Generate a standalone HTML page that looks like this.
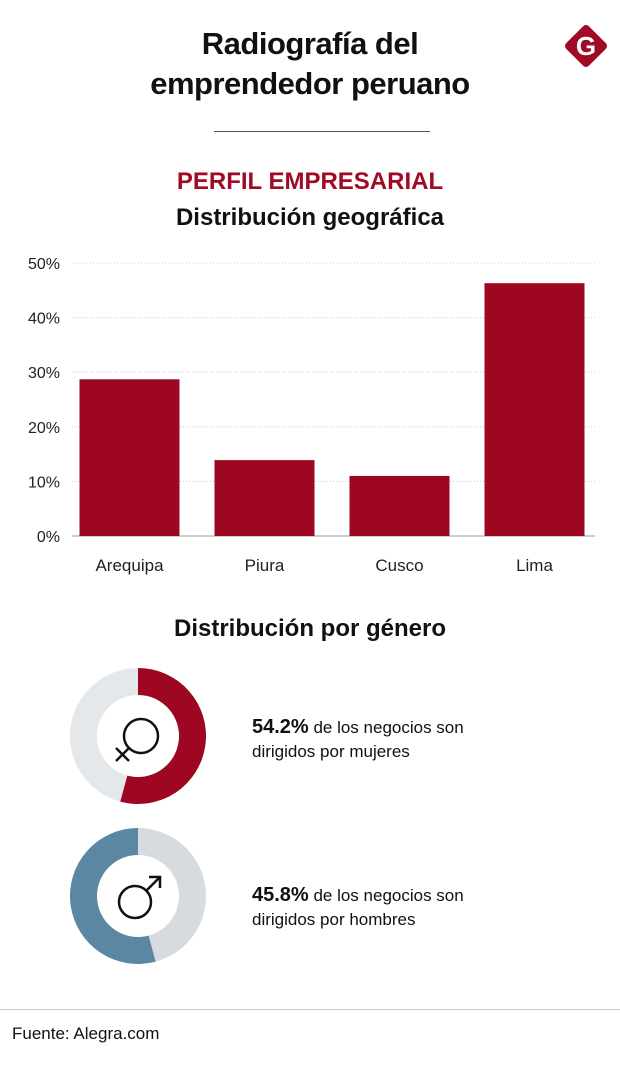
<!DOCTYPE html>
<html><head><meta charset="utf-8"><style>
body{margin:0;width:620px;height:1074px;background:#fff;font-family:"Liberation Sans",sans-serif;position:relative;overflow:hidden;color:#111}
.t{position:absolute;white-space:nowrap}
</style></head><body>
<div class="t" style="left:0;width:620px;text-align:center;top:24px;font-size:31px;font-weight:bold;line-height:40px;letter-spacing:-0.5px">Radiografía del<br>emprendedor peruano</div>
<svg style="position:absolute;left:561px;top:21px" width="50" height="50" viewBox="0 0 50 50"><rect x="9" y="9" width="32" height="32" rx="4" transform="rotate(45 25 25)" fill="#a00a24"/><text x="25" y="34" text-anchor="middle" font-family="Liberation Sans" font-weight="bold" font-size="26" fill="#fff">G</text></svg>
<div style="position:absolute;left:214px;top:131px;width:216px;height:1px;background:#555"></div>
<div class="t" style="left:0;width:620px;text-align:center;top:168px;font-size:24px;font-weight:bold;color:#a00a24">PERFIL EMPRESARIAL</div>
<div class="t" style="left:0;width:620px;text-align:center;top:204px;font-size:24px;font-weight:bold">Distribución geográfica</div>
<svg id="chart" style="position:absolute;left:0;top:240px" width="620" height="350"></svg>
<div class="t" style="left:0;width:620px;text-align:center;top:615px;font-size:24px;font-weight:bold">Distribución por género</div>
<svg id="donuts" style="position:absolute;left:0;top:650px" width="240" height="330"></svg>
<div class="t" style="left:252px;top:715px;font-size:17px;line-height:24px"><b style="font-size:20px">54.2%</b> de los negocios son<br>dirigidos por mujeres</div>
<div class="t" style="left:252px;top:883px;font-size:17px;line-height:24px"><b style="font-size:20px">45.8%</b> de los negocios son<br>dirigidos por hombres</div>
<div style="position:absolute;left:0;top:1009px;width:620px;height:1px;background:#ccc"></div>
<div class="t" style="left:12px;top:1024px;font-size:17px">Fuente: Alegra.com</div>
<script>
const categories=["Arequipa","Piura","Cusco","Lima"];
const values=[28.7,13.9,11.0,46.3];
const ticks=[0,10,20,30,40,50];
const genderValues=[54.2,45.8];
const NS="http://www.w3.org/2000/svg";
const svg=document.getElementById("chart");
const x0=62,x1=595,y0=296,yTop=23;
const y=v=>y0-(v/50)*(y0-yTop);
function mk(t,a,p){const e=document.createElementNS(NS,t);for(const k in a)e.setAttribute(k,a[k]);(p||svg).appendChild(e);return e;}
ticks.forEach(t=>{
 const l=mk("line",{x1:x0+10,x2:x1,y1:y(t),y2:y(t),stroke:t?"#ccc":"#999","stroke-dasharray":t?"1,2":"none","stroke-width":1});
 
 
 const tx=mk("text",{x:x0-2,y:y(t)+6,"text-anchor":"end","font-size":16,fill:"#222","font-family":"Liberation Sans"});
 tx.textContent=t+"%";
 
 
});
const band=(602-x0)/categories.length;
categories.forEach((c,i)=>{
 const cx=x0+band*(i+0.5);
 const r=mk("rect",{x:cx-50,y:y(values[i]),width:100,height:y0-y(values[i]),fill:"#9d0722"});
 
 
 const tx=mk("text",{x:cx,y:y0+35,"text-anchor":"middle","font-size":17,fill:"#222","font-family":"Liberation Sans"});
 tx.textContent=c;
 
 
});
const d=document.getElementById("donuts");
function arc(cx,cy,R,r,a0,a1){const p=(a,rr)=>(cx+rr*Math.sin(a))+","+(cy-rr*Math.cos(a));const lg=(a1-a0)>Math.PI?1:0;return "M"+p(a0,R)+"A"+R+","+R+" 0 "+lg+" 1 "+p(a1,R)+"L"+p(a1,r)+"A"+r+","+r+" 0 "+lg+" 0 "+p(a0,r)+"Z";}
function donut(cy,val,col,bg,name){
 const cx=138,R=68,r=41,a=val/100*2*Math.PI;
 const b=mk("path",{d:arc(cx,cy,R,r,a,2*Math.PI),fill:bg},d);
 
 
 const f=mk("path",{d:arc(cx,cy,R,r,0,a),fill:col},d);
 
 
}
donut(86,genderValues[0],"#9d0722","#e5e8ea","female-donut");
(function(){const cx=138,cy=246,R=68,r=41,a=genderValues[1]/100*2*Math.PI;
 const f=mk("path",{d:arc(cx,cy,R,r,a,2*Math.PI),fill:"#5b87a2"},d);
 
 
 const b=mk("path",{d:arc(cx,cy,R,r,0,a),fill:"#d5dbdf"},d);
 
 
})();
const fs=mk("g",{stroke:"#111","stroke-width":2.5,fill:"none"},d);


mk("circle",{cx:141,cy:86,r:17},fs);mk("line",{x1:129,y1:98,x2:116,y2:111},fs);mk("line",{x1:116,y1:98,x2:129,y2:111},fs);
const ms=mk("g",{stroke:"#111","stroke-width":2.5,fill:"none"},d);


mk("circle",{cx:135,cy:252,r:16},ms);mk("line",{x1:146,y1:241,x2:160,y2:227},ms);mk("polyline",{points:"149,227 160,227 160,238"},ms);
</script>
</body></html>
